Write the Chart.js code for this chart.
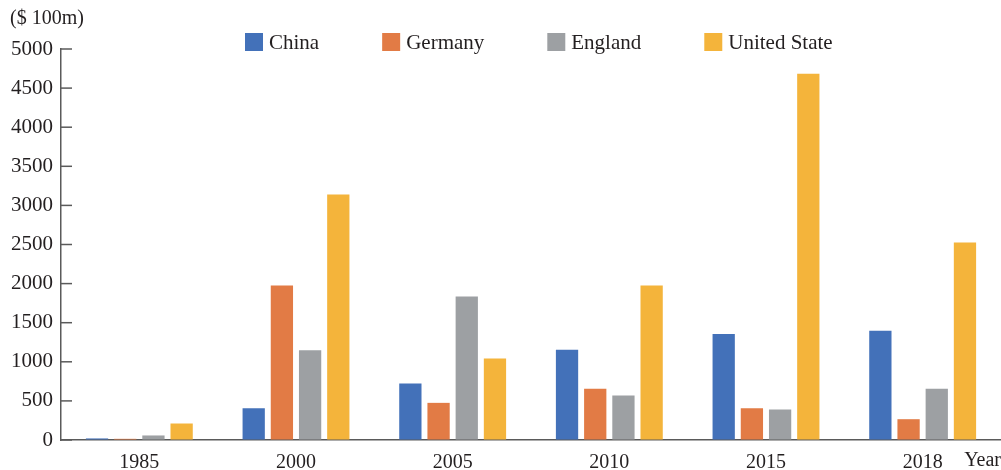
<!DOCTYPE html>
<html>
<head>
<meta charset="utf-8">
<script src="https://cdn.jsdelivr.net/npm/chart.js@4/dist/chart.umd.min.js"></script>
<style>
  html, body { margin: 0; padding: 0; background: #ffffff; }
  #wrap { width: 1001px; height: 470px; }
</style>
</head>
<body>
<div id="wrap"><canvas id="c" width="1001" height="470"></canvas></div>
<script>
const years = ['1985', '2000', '2005', '2010', '2015', '2018'];
const china = [20, 406, 722, 1153, 1357, 1396];
const germany = [15, 1975, 475, 654, 406, 266];
const england = [58, 1148, 1834, 569, 390, 654];
const unitedState = [211, 3138, 1042, 1975, 4684, 2524];
const seriesNames = ['China', 'Germany', 'England', 'United State'];
const seriesColors = ['#4371b9', '#e27b45', '#9da0a3', '#f4b43b'];
const yTickStep = 500;
const yMax = 5000;
const yAxisTitle = '($ 100m)';
const xAxisTitle = 'Year';

const FONT = "'Liberation Serif', 'Times New Roman', serif";
const TEXT = '#231f20';
const AXIS = '#5a5a5a';

const decorPlugin = {
  id: 'decor',
  afterDraw(chart) {
    const ctx = chart.ctx;
    const ya = chart.scales.y;
    const ca = chart.chartArea;
    ctx.save();
    // inward ticks on y axis
    ctx.strokeStyle = AXIS;
    ctx.lineWidth = 1.5;
    ya.ticks.forEach(t => {
      const py = ya.getPixelForValue(t.value);
      ctx.beginPath();
      ctx.moveTo(ca.left, py);
      ctx.lineTo(ca.left + 11, py);
      ctx.stroke();
    });
    // axis titles
    ctx.fillStyle = TEXT;
    ctx.font = '20px ' + FONT;
    ctx.textBaseline = 'middle';
    ctx.textAlign = 'left';
    ctx.fillText(yAxisTitle, 10, 19);
    ctx.textAlign = 'right';
    ctx.fillText(xAxisTitle, 1001, 461);
    // legend
    ctx.font = '21px ' + FONT;
    let x = 245;
    const boxSize = 18;
    const yMid = 42;
    ctx.textAlign = 'left';
    chart.data.datasets.forEach(ds => {
      ctx.fillStyle = ds.backgroundColor;
      ctx.fillRect(x, yMid - boxSize / 2, boxSize, boxSize);
      ctx.fillStyle = TEXT;
      ctx.fillText(ds.label, x + boxSize + 6, yMid + 1);
      x += boxSize + 6 + ctx.measureText(ds.label).width + 63;
    });
    ctx.restore();
  }
};

const seriesData = [china, germany, england, unitedState];

new Chart(document.getElementById('c'), {
  type: 'bar',
  data: {
    labels: years,
    datasets: seriesData.map((d, i) => ({
      label: seriesNames[i],
      data: d,
      backgroundColor: seriesColors[i],
      borderWidth: 0,
      barPercentage: 0.79,
      categoryPercentage: 0.72
    }))
  },
  options: {
    responsive: false,
    devicePixelRatio: 1,
    animation: false,
    layout: { padding: { top: 49, right: 0, bottom: 0, left: 0 } },
    plugins: {
      legend: { display: false },
      tooltip: { enabled: false }
    },
    scales: {
      x: {
        grid: { display: true, drawOnChartArea: false, drawTicks: false },
        border: { display: true, color: AXIS, width: 1.5 },
        ticks: { color: TEXT, font: { family: FONT, size: 20 }, padding: 11, maxRotation: 0 },
        afterFit(s) { s.height = 30; }
      },
      y: {
        min: 0,
        max: yMax,
        grid: { display: true, drawOnChartArea: false, drawTicks: false },
        border: { display: true, color: AXIS, width: 1.5 },
        ticks: {
          stepSize: yTickStep, color: TEXT, font: { family: FONT, size: 21 }, padding: 8,
          callback: v => String(v)
        },
        afterFit(s) { s.width = 61; }
      }
    }
  },
  plugins: [decorPlugin]
});
</script>
</body>
</html>
